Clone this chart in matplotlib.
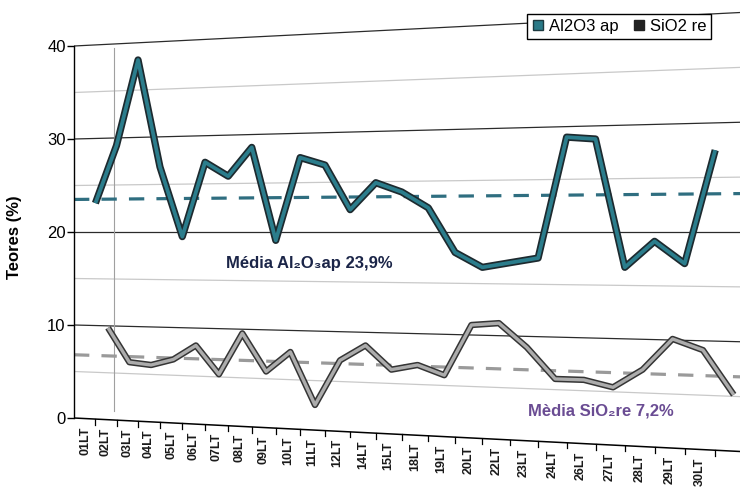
import numpy as np
import matplotlib
matplotlib.use("Agg")
import matplotlib.pyplot as plt
from matplotlib.lines import Line2D

# amostras e teores (%)
labels = ['01LT', '02LT', '03LT', '04LT', '05LT', '06LT', '07LT', '08LT', '09LT',
          '10LT', '11LT', '12LT', '14LT', '15LT', '18LT', '19LT', '20LT', '22LT',
          '23LT', '24LT', '26LT', '27LT', '28LT', '29LT', '30LT']
al2o3_ap = [23.1, 29.3, 38.5, 27.0, 19.5, 27.5, 26.0, 29.1, 19.1, 28.0, 27.2, 22.4,
            25.3, 24.3, 22.6, 17.8, 16.2, 16.7, 17.2, 30.2, 30.0, 16.2, 19.0, 16.6, 28.8]
sio2_re = [9.7, 6.0, 5.7, 6.3, 7.8, 4.7, 9.1, 5.0, 7.1, 1.4, 6.2, 7.8, 5.2,
           5.7, 4.6, 10.0, 10.2, 7.6, 4.2, 4.1, 3.3, 5.2, 8.5, 7.3, 2.5]
media_al2o3 = 23.9
media_sio2 = 7.2
yticks = [0, 10, 20, 30, 40]
minor_lines = [5, 15, 25, 35]

plt.rcParams['font.family'] = ['Liberation Sans', 'DejaVu Sans']

W, H = 741, 491
PX_L, PX_R = 74, 740
PX0 = 85          # pixel do primeiro rotulo
Y0, PPU = 418, 9.3

fig = plt.figure(figsize=(W / 100, H / 100), dpi=100)
ax = fig.add_axes([PX_L / W, 0, (PX_R - PX_L) / W, 1])

# escala "em perspectiva" do eixo x (espacamento cresce para a direita)
A, B = 20.7, 0.205


def fwd(x):
    x = np.asarray(x, dtype=float)
    return A * x + B * x ** 2


def inv(p):
    p = np.asarray(p, dtype=float)
    return (-A + np.sqrt(np.maximum(A * A + 4 * B * p, 0))) / (2 * B)


ax.set_xscale('function', functions=(fwd, inv))
x0 = float(inv(PX_L - PX0))
x1 = float(inv(PX_R - PX0))
ax.set_xlim(x0, x1)
ax.set_ylim(-(H - Y0) / PPU, Y0 / PPU)

TILT = 0.18


def frac(x):
    return (fwd(x) - fwd(x0)) / (fwd(x1) - fwd(x0))


def persp(v, x):
    return v + (v - 20) * TILT * frac(x)


# grade da parede de fundo
for v in minor_lines:
    ax.plot([x0, x1], [persp(v, x0), persp(v, x1)], color='#c9c9c9', lw=0.9, zorder=1)
for v in yticks[1:]:
    ax.plot([x0, x1], [persp(v, x0), persp(v, x1)], color='#2b2b2b', lw=0.9, zorder=1)
ax.plot([x0, x1], [persp(0, x0), persp(0, x1)], color='black', lw=1.1, zorder=1)

xw = float(inv(114 - PX0))
ax.plot([xw, xw], [0.8, 39.8], color='#a0a0a0', lw=0.8, zorder=1)

# medias
xs = np.array([x0, x1])
ax.plot(xs, persp(media_al2o3 - 0.4, xs), color='#2f6e80', lw=2.3,
        dashes=(4.8, 3.8), zorder=2)
ax.plot(xs, persp(media_sio2 - 0.4, xs), color='#9a9a9a', lw=2.3,
        dashes=(4.8, 3.8), zorder=2)

# series
idx = np.arange(len(labels))
ax.plot(idx + 0.5, al2o3_ap, color='#1d2a2f', lw=5.2, solid_joinstyle='round',
        solid_capstyle='butt', zorder=3)
ax.plot(idx + 0.5, al2o3_ap, color='#2b7d8c', lw=2.7, solid_joinstyle='round',
        solid_capstyle='butt', zorder=3)
ax.plot(idx + 1.1, sio2_re, color='#353535', lw=4.6, solid_joinstyle='round',
        solid_capstyle='butt', zorder=3)
ax.plot(idx + 1.1, sio2_re, color='#acacac', lw=2.4, solid_joinstyle='round',
        solid_capstyle='butt', zorder=3)

# eixo x inclinado com rotulos
for i, lab in enumerate(labels):
    tx = i + 0.5
    ay = persp(0, tx)
    ax.plot([tx, tx], [ay, ay - 0.6], color='black', lw=0.9, zorder=1)
    ax.text(i, persp(0, i) - 0.85, lab, rotation=90, ha='center', va='top',
            fontsize=9, fontweight='bold', color='#1a1a1a')

# eixo y
ax.spines['top'].set_visible(False)
ax.spines['right'].set_visible(False)
ax.spines['bottom'].set_visible(False)
ax.spines['left'].set_bounds(0, 40)
ax.spines['left'].set_linewidth(1.0)
ax.set_xticks([])
ax.set_xticks([], minor=True)
ax.set_yticks(yticks)
ax.tick_params(axis='y', length=5, width=1, labelsize=12, pad=1)
ax.set_ylabel('Teores (%)', fontsize=12, fontweight='bold')
ax.yaxis.set_label_coords((22 - PX_L) / (PX_R - PX_L), (H - 237) / H)

ax.text(float(inv(309 - PX0)), (Y0 - 263) / PPU,
        ('Média Al₂O₃ap %.1f%%' % media_al2o3).replace('.', ','),
        ha='center', va='center', fontsize=12, fontweight='bold', color='#1b2548')
ax.text(float(inv(601 - PX0)), (Y0 - 411) / PPU,
        ('Mèdia SiO₂re %.1f%%' % media_sio2).replace('.', ','),
        ha='center', va='center', fontsize=12, fontweight='bold', color='#6a4c93')

handles = [Line2D([], [], marker='s', ls='none', markersize=7, color='#2a7a88',
                  markeredgecolor='#1d3a40'),
           Line2D([], [], marker='s', ls='none', markersize=7, color='#222222')]
leg = fig.legend(handles, ['Al2O3 ap', 'SiO2 re'], loc='upper left',
                 bbox_to_anchor=(527 / W, 1 - 14 / H), ncol=2, fontsize=12,
                 frameon=True, fancybox=False, edgecolor='black', framealpha=1,
                 handlelength=0.7, handletextpad=0.3, columnspacing=0.9,
                 borderpad=0.3, borderaxespad=0)
leg.get_frame().set_linewidth(1.0)
leg.set_zorder(10)

fig.savefig('out.png', dpi=100)
